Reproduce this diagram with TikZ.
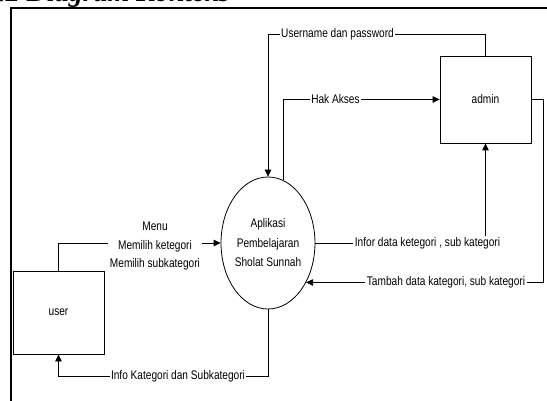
\documentclass[tikz,border=0pt]{standalone}
\usepackage{fontspec}
\setmainfont{Liberation Serif}
\newfontfamily\labelfont[FakeStretch=0.81]{Liberation Sans}
\usetikzlibrary{shapes.geometric,arrows.meta}

\begin{document}
\begin{tikzpicture}[x=1pt,y=-1pt,
  frame/.style={line width=2.2pt},
  flow/.style={draw, line width=0.8pt, -{Triangle[length=7pt,width=6.5pt]}},
  flowlabel/.style={fill=white, inner sep=1.5pt, font=\labelfont\fontsize{12.5}{18.5}\selectfont, align=center},
  entity/.style={draw, line width=0.8pt, minimum width=91pt, inner sep=0pt, font=\labelfont\fontsize{12.5}{14}\selectfont},
  process/.style={ellipse, draw, line width=0.8pt, minimum width=82pt, minimum height=132pt, inner sep=0pt, align=center, font=\labelfont\fontsize{12.5}{19.5}\selectfont}]
\useasboundingbox (0,0) rectangle (547,401);

% section heading and page frame
\node[anchor=base east, inner sep=0pt, font=\bfseries\itshape\fontsize{28}{30}\selectfont] (title) at (230,1.5) {4.1.2 Diagram Konteks};
\draw[frame] (11,402) -- (11,8) -- (550,8);

% external entities and the process
\node[entity, minimum height=87pt] (admin) at (485.5,99.5) {admin};
\node[entity, minimum height=83pt] (user) at (58.5,312.5) {user};
\node[process] (app) at (268,243) {Aplikasi\\Pembelajaran\\Sholat Sunnah};

% bend points of the data flows
\coordinate (up) at (485.5,34);
\coordinate (rt) at (543,99.5);
\coordinate (bt) at (268,376);

% data flows
\draw[flow] (admin.north) -- (up) -| (app.north);
\node[flowlabel] (lupw) at (337.5,34) {Username dan password};

\draw[flow] (app.76) |- (admin.west);
\node[flowlabel] (lhak) at (335.5,99.5) {Hak Akses};

\draw[flow] (user.north) |- (app.west);
\node[flowlabel] (lmenu) at (155,246) {Menu\\Memilih ketegori\\Memilih subkategori};

\draw[flow] (app.east) -| (admin.south);
\node[flowlabel] (linfo) at (427.5,243) {Infor data ketegori , sub kategori};

\draw[flow] (admin.east) -- (rt) |- (app.-46.6);
\node[flowlabel] (ltambah) at (446,282) {Tambah data kategori, sub kategori};

\draw[flow] (app.south) -- (bt) -| (user.south);
\node[flowlabel] (lout) at (178,376) {Info Kategori dan Subkategori};
\end{tikzpicture}
\end{document}
